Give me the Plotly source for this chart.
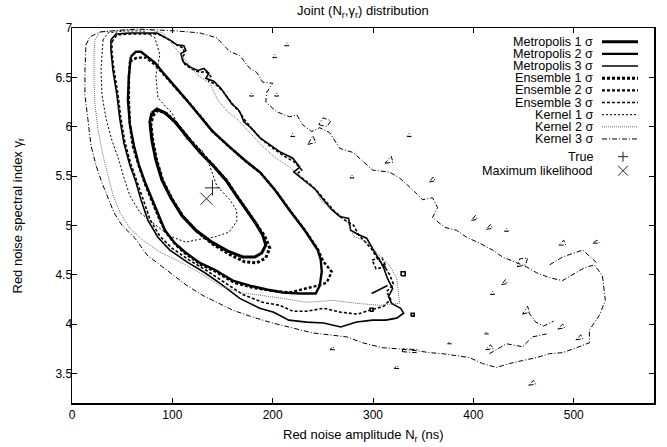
import plotly.graph_objects as go

# ---------------- data (N_r in ns, gamma_r) ----------------
title_text = "Joint (N<sub>r</sub>,γ<sub>r</sub>) distribution"
x_label = "Red noise amplitude N<sub>r</sub> (ns)"
y_label = "Red noise spectral index γ<sub>r</sub>"
x_ticks = [0, 100, 200, 300, 400, 500]
y_ticks = [3.5, 4, 4.5, 5, 5.5, 6, 6.5, 7]
y_ticktext = ["3.5", "4", "4.5", "5", "5.5", "6", "6.5", "7"]

true_point = (140.0, 5.38)
ml_point = (134.0, 5.27)

met1 = [(79.6,6.14),(84.6,6.18),(92.6,6.14),(102.5,6.05),(114.5,5.90),(127.4,5.74),(141.3,5.60),
        (153.3,5.46),(163.2,5.31),(173.2,5.16),(183.2,5.02),(190.1,4.90),(193.1,4.80),(189.1,4.72),
        (182.2,4.68),(170.2,4.68),(155.3,4.74),(139.4,4.83),(123.4,4.95),(109.5,5.10),(98.5,5.28),
        (89.6,5.46),(83.6,5.66),(79.6,5.86),(77.6,6.05),(79.6,6.14)]

met2 = [(58.7,6.71),(63.7,6.76),(68.7,6.76),(74.7,6.71),(82.6,6.65),(90.6,6.55),(99.5,6.45),(107.5,6.35),
        (117.5,6.23),(127.4,6.11),(139.4,5.96),(155.3,5.81),(172.2,5.66),(187.1,5.54),(202.1,5.36),
        (217.0,5.15),(231.9,4.95),(244.9,4.75),(247.9,4.65),(248.9,4.53),(246.9,4.39),(242.9,4.31),
        (227.0,4.31),(210.0,4.32),(194.1,4.35),(177.2,4.39),(160.3,4.44),(142.3,4.55),(127.4,4.62),
        (112.5,4.73),(102.5,4.82),(92.6,4.95),(87.6,5.07),(79.6,5.26),(72.7,5.44),(66.7,5.61),
        (61.7,5.81),(57.7,6.02),(55.7,6.27),(56.7,6.52),(58.7,6.71)]

met3 = [(38.8,6.88),(43.8,6.94),(57.7,6.95),(84.6,6.95),(97.5,6.88),(104.5,6.83),(111.5,6.82),(113.5,6.77),
        (108.5,6.74),(110.5,6.66),(118.5,6.60),(125.4,6.57),(131.4,6.59),(136.4,6.54),(133.4,6.49),
        (141.3,6.46),(148.3,6.39),(155.3,6.29),(159.3,6.23),(165.2,6.18),(168.2,6.13),(171.2,6.05),
        (178.2,5.99),(187.1,5.89),(197.1,5.82),(208.0,5.74),(220.0,5.68),(227.0,5.59),(221.0,5.54),
        (233.9,5.44),(241.9,5.37),(248.9,5.28),(257.8,5.17),(266.8,5.09),(275.7,5.07),(277.7,4.95),
        (284.7,4.91),(293.6,4.87),(298.6,4.79),(301.6,4.73),(307.6,4.63),(310.6,4.57),(314.5,4.46),
        (319.5,4.36),(315.5,4.28),(318.5,4.21),(327.5,4.16),(330.5,4.11),(323.5,4.06),(312.6,4.04),
        (299.6,4.04),(283.7,4.02),(267.8,3.97),(250.8,4.01),(233.9,4.02),(216.0,4.04),(201.1,4.12),
        (187.1,4.16),(167.2,4.26),(149.3,4.40),(132.4,4.52),(114.5,4.63),(97.5,4.75),(85.6,4.88),
        (75.7,5.05),(68.7,5.26),(63.7,5.44),(57.7,5.61),(51.8,5.83),(47.8,6.07),(44.8,6.32),
        (40.8,6.57),(38.8,6.78),(38.8,6.88)]
met3_extra = [
    [(298.6,4.31),(314.5,4.39)],
    [(328,4.49),(332,4.49),(332,4.53),(328,4.53),(328,4.49)],
    [(338,4.08),(341,4.08),(341,4.11),(338,4.11),(338,4.08)],
    [(297,4.13),(300,4.13),(300,4.16),(297,4.16),(297,4.13)],
]

ens1 = [(80.6,6.11),(85.6,6.17),(94.6,6.13),(104.5,6.03),(116.5,5.88),(129.4,5.73),(142.3,5.59),
        (154.3,5.45),(164.2,5.30),(174.2,5.15),(184.1,5.01),(192.1,4.89),(197.1,4.77),(193.1,4.67),
        (184.1,4.62),(172.2,4.63),(156.3,4.71),(140.3,4.81),(124.4,4.94),(110.5,5.09),(99.5,5.27),
        (90.6,5.45),(84.6,5.65),(80.6,5.85),(78.6,6.02),(80.6,6.11)]

ens2 = [(57.7,6.66),(64.7,6.70),(73.7,6.70),(82.6,6.63),(90.6,6.54),(99.5,6.44),(108.5,6.34),(118.5,6.22),
        (128.4,6.10),(140.3,5.95),(156.3,5.80),(173.2,5.65),(188.1,5.53),(203.1,5.35),(218.0,5.14),
        (232.9,4.94),(244.9,4.76),(250.8,4.63),(258.8,4.53),(253.8,4.42),(244.9,4.39),(231.9,4.36),
        (217.0,4.32),(197.1,4.34),(179.2,4.37),(161.3,4.42),(143.3,4.53),(128.4,4.60),(113.5,4.71),
        (103.5,4.80),(93.6,4.93),(87.6,5.05),(79.6,5.24),(72.7,5.42),(66.7,5.60),(60.7,5.80),
        (57.7,6.02),(56.7,6.27),(56.7,6.49),(57.7,6.66)]

ens3 = [(39.8,6.86),(44.8,6.93),(58.7,6.94),(85.6,6.94),(98.5,6.87),(105.5,6.82),(110.5,6.80),(112.5,6.74),
        (109.5,6.70),(112.5,6.63),(120.4,6.58),(127.4,6.55),(133.4,6.56),(138.3,6.51),(136.3,6.46),
        (143.3,6.43),(150.3,6.36),(157.3,6.26),(162.2,6.20),(167.2,6.15),(171.2,6.08),(179.2,5.98),
        (189.1,5.87),(199.1,5.79),(210.0,5.71),(222.0,5.64),(229.0,5.56),(224.0,5.52),(236.9,5.42),
        (244.9,5.34),(251.8,5.26),(260.8,5.15),(270.7,5.06),(280.7,5.00),(285.7,4.90),(291.7,4.84),
        (298.6,4.76),(304.6,4.66),(310.6,4.60),(316.5,4.50),(320.5,4.40),(313.5,4.33),(317.5,4.25),
        (310.6,4.18),(296.7,4.14),(284.7,4.10),(267.8,4.12),(250.8,4.16),(233.9,4.13),(220.0,4.13),
        (207.1,4.19),(190.1,4.22),(170.2,4.30),(152.3,4.42),(134.4,4.54),(116.5,4.65),(99.5,4.77),
        (87.6,4.89),(77.7,5.06),(70.7,5.27),(64.7,5.45),(58.7,5.62),(52.8,5.84),(48.8,6.08),
        (45.8,6.33),(41.8,6.58),(39.8,6.76),(39.8,6.86)]
ens3_extra = [
    [(299,4.65),(309,4.67),(313,4.58),(303,4.56),(299,4.65)],
]

ker1 = [(30.9,6.88),(35.8,6.95),(52.8,6.97),(70.7,6.97),(82.6,6.90),(87.6,6.73),(83.6,6.52),(85.6,6.29),
        (99.5,6.14),(113.5,5.88),(129.4,5.76),(137.4,5.60),(144.3,5.40),(157.3,5.26),(164.2,5.15),
        (164.2,5.04),(156.3,4.93),(141.3,4.88),(127.4,4.86),(113.5,4.83),(97.5,4.89),(82.6,5.01),
        (67.7,5.13),(57.7,5.30),(51.8,5.48),(46.8,5.66),(39.8,5.86),(33.8,6.09),(29.9,6.32),
        (28.9,6.57),(29.9,6.78),(30.9,6.88)]

ker2 = [(22.9,6.88),(27.9,6.96),(47.8,6.98),(77.6,6.98),(90.6,6.95),(99.5,6.84),(107.5,6.74),(115.5,6.65),
        (125.4,6.52),(137.4,6.44),(145.3,6.27),(155.3,6.15),(165.2,6.07),(177.2,5.94),(189.1,5.81),
        (202.1,5.69),(217.0,5.59),(229.9,5.48),(243.9,5.34),(248.9,5.24),(261.8,5.15),(273.7,5.05),
        (280.7,4.89),(293.6,4.83),(306.6,4.69),(316.5,4.59),(323.5,4.47),(326.5,4.21),(306.6,4.19),
        (283.7,4.21),(259.8,4.24),(233.9,4.22),(210.0,4.26),(187.1,4.29),(167.2,4.32),(147.3,4.39),
        (127.4,4.52),(107.5,4.63),(87.6,4.73),(70.7,4.85),(57.7,4.97),(47.8,5.13),(40.8,5.31),
        (35.8,5.51),(30.9,5.71),(25.9,5.97),(22.9,6.22),(21.9,6.47),(21.9,6.73),(22.9,6.88)]

ker3 = [(13.9,6.83),(17.9,6.91),(27.9,6.96),(64.7,6.99),(104.5,6.97),(127.4,6.95),(144.3,6.90),(151.3,6.83),
        (157.3,6.76),(167.2,6.72),(177.2,6.59),(184.1,6.55),(190.1,6.45),(200.1,6.44),(194.1,6.35),
        (193.1,6.25),(204.1,6.15),(217.0,6.10),(224.0,6.12),(229.9,6.02),(238.9,5.95),(246.9,5.99),
        (256.8,5.94),(266.8,5.78),(279.7,5.74),(288.7,5.66),(299.6,5.56),(316.5,5.54),(326.5,5.48),
        (336.4,5.39),(349.4,5.26),(359.3,5.28),(364.3,5.18),(359.3,5.08),(371.3,4.98),(383.2,4.95),
        (393.2,4.88),(406.1,4.82),(419.1,4.75),(429.0,4.68),(442.9,4.62),(452.9,4.58),(462.9,4.52),
        (475.8,4.47),(488.7,4.44),(500.7,4.51),(510.6,4.57),(520.6,4.60),(528.6,4.49),(531.5,4.24),
        (525.6,4.09),(515.6,3.94),(515.6,3.81),(502.7,3.76),(488.7,3.71),(475.8,3.70),(462.9,3.66),
        (448.9,3.63),(436.0,3.60),(423.0,3.56),(409.1,3.60),(396.2,3.66),(383.2,3.68),(369.3,3.70),
        (356.4,3.71),(343.4,3.73),(323.5,3.75),(309.6,3.76),(289.7,3.81),(273.7,3.87),(256.8,3.89),
        (239.9,3.91),(220.0,3.96),(200.1,4.01),(180.2,4.07),(160.3,4.14),(144.3,4.22),(130.4,4.29),
        (114.5,4.39),(99.5,4.51),(87.6,4.60),(74.7,4.70),(62.7,4.87),(49.8,5.00),(41.8,5.13),
        (35.8,5.28),(29.9,5.43),(23.9,5.61),(18.9,5.81),(15.9,6.07),(12.9,6.32),(12.9,6.57),(13.9,6.83)]
ker3_islands = [
    [(212,6.82),(216,6.82),(214,6.85),(212,6.82)],
    [(200,6.70),(204,6.70),(202,6.73),(200,6.70)],
    [(177,6.31),(181,6.31),(179,6.34),(177,6.31)],
    [(202,6.31),(206,6.31),(204,6.34),(202,6.31)],
    [(218,5.90),(222,5.90),(220,5.93),(218,5.90)],
    [(235,5.82),(243,5.84),(240,5.91),(235,5.82)],
    [(246,6.02),(254,6.00),(258,6.06),(250,6.09),(246,6.02)],
    [(334,5.90),(338,5.90),(336,5.93),(334,5.90)],
    [(277,5.48),(281,5.48),(279,5.51),(277,5.48)],
    [(312,5.63),(320,5.64),(318,5.70),(312,5.63)],
    [(356,5.44),(362,5.45),(360,5.49),(356,5.44)],
    [(398,5.05),(404,5.06),(402,5.10),(398,5.05)],
    [(413,4.96),(419,4.97),(417,5.01),(413,4.96)],
    [(431,4.94),(435,4.94),(433,4.97),(431,4.94)],
    [(444,4.58),(452,4.60),(454,4.67),(446,4.66),(444,4.58)],
    [(428,4.40),(434,4.41),(432,4.45),(428,4.40)],
    [(417,4.30),(421,4.30),(419,4.33),(417,4.30)],
    [(449,4.10),(456,4.12),(454,4.18),(449,4.10)],
    [(411,3.90),(415,3.90),(413,3.92),(411,3.90)],
    [(374,3.80),(378,3.80),(376,3.82),(374,3.80)],
    [(329,3.72),(343,3.71),(344,3.74),(330,3.75),(329,3.72)],
    [(412,3.74),(420,3.75),(417,3.79),(412,3.74)],
    [(485,4.80),(492,4.80),(490,4.85),(485,4.80)],
    [(519,4.82),(526,4.82),(523,4.85),(519,4.82)],
    [(484,3.95),(491,3.96),(489,4.00),(484,3.95)],
    [(502,3.84),(509,3.85),(507,3.89),(502,3.84)],
    [(321,3.55),(326,3.55),(324,3.58),(321,3.55)],
    [(455,3.38),(462,3.39),(460,3.43),(455,3.38)],
    [(257,3.74),(262,3.74),(260,3.77),(257,3.74)],
    [(416,3.70),(433,3.80),(449,3.77),(459,3.87),(473,3.90)],
    [(476,4.60),(489,4.68),(509,4.75),(523,4.62)],
    [(455,4.12),(462,4.02),(470,3.98),(480,4.03)],
]

# ---------------- figure ----------------
FONT = "Liberation Sans, Arial, Helvetica, sans-serif"
W, H = 667, 447
L, T, R, B = 72, 28, 13, 44
PW, PH = W - L - R, H - T - B


def px2x(px):
    return (px - L) / PW


def py2y(py):
    return (H - B - py) / PH


def to_xy(paths):
    xs, ys = [], []
    for k, pts in enumerate(paths):
        if k:
            xs.append(None)
            ys.append(None)
        for n, g in pts:
            xs.append(n)
            ys.append(g)
    return xs, ys


series = [
    ("Metropolis 1 σ", [met1], dict(color="black", width=3.0, dash="solid")),
    ("Metropolis 2 σ", [met2], dict(color="black", width=2.4, dash="solid")),
    ("Metropolis 3 σ", [met3] + met3_extra, dict(color="black", width=1.6, dash="solid")),
    ("Ensemble 1 σ", [ens1], dict(color="black", width=3.0, dash="3px,2px")),
    ("Ensemble 2 σ", [ens2], dict(color="black", width=2.4, dash="3px,2px")),
    ("Ensemble 3 σ", [ens3] + ens3_extra, dict(color="black", width=1.6, dash="3px,2px")),
    ("Kernel 1 σ", [ker1], dict(color="black", width=1.0, dash="2px,2px")),
    ("Kernel 2 σ", [ker2], dict(color="#6e6e6e", width=1.0, dash="1px,1px")),
    ("Kernel 3 σ", [ker3] + ker3_islands, dict(color="black", width=1.0, dash="5px,2px,1px,2px")),
]

fig = go.Figure()
for name, paths, style in series:
    xs, ys = to_xy(paths)
    fig.add_trace(go.Scatter(x=xs, y=ys, mode="lines", name=name, line=style,
                             connectgaps=False, hoverinfo="skip"))

fig.add_trace(go.Scatter(x=[true_point[0]], y=[true_point[1]], mode="markers", name="True",
                         hoverinfo="skip",
                         marker=dict(symbol="cross-thin", size=11, line=dict(color="#222", width=1))))
fig.add_trace(go.Scatter(x=[ml_point[0]], y=[ml_point[1]], mode="markers", name="Maximum likelihood",
                         hoverinfo="skip",
                         marker=dict(symbol="x-thin", size=12, line=dict(color="#222", width=1))))

TXT = dict(family=FONT, size=12.6, color="black")
annotations = []
shapes = []
text_right = 594
s0, s1 = 602, 638
row0, step = 41.7, 12.16
for i, (name, paths, style) in enumerate(series):
    yy = py2y(row0 + step * i)
    annotations.append(dict(x=px2x(text_right), y=yy, xref="paper", yref="paper", text=name,
                            showarrow=False, xanchor="right", yanchor="middle", height=12,
                            borderpad=0, font=TXT))
    shapes.append(dict(type="line", xref="paper", yref="paper", x0=px2x(s0), x1=px2x(s1),
                       y0=yy, y1=yy, line=style))

for label, rowpy in (("True", 156.7), ("Maximum likelihood", 170.7)):
    annotations.append(dict(x=px2x(text_right), y=py2y(rowpy), xref="paper", yref="paper",
                            text=label, showarrow=False, xanchor="right", yanchor="middle",
                            height=12, borderpad=0, font=TXT))
cx = 623
mk = dict(color="#222", width=1)
shapes += [
    dict(type="line", xref="paper", yref="paper", x0=px2x(cx - 5), x1=px2x(cx + 5),
         y0=py2y(156.7), y1=py2y(156.7), line=mk),
    dict(type="line", xref="paper", yref="paper", x0=px2x(cx), x1=px2x(cx),
         y0=py2y(151.7), y1=py2y(161.7), line=mk),
    dict(type="line", xref="paper", yref="paper", x0=px2x(cx - 5), x1=px2x(cx + 5),
         y0=py2y(165.7), y1=py2y(175.7), line=mk),
    dict(type="line", xref="paper", yref="paper", x0=px2x(cx - 5), x1=px2x(cx + 5),
         y0=py2y(175.7), y1=py2y(165.7), line=mk),
]

annotations.append(dict(x=0.5, y=py2y(435), xref="paper", yref="paper", text=x_label,
                        showarrow=False, xanchor="center", yanchor="middle",
                        font=dict(family=FONT, size=13, color="black")))
annotations.append(dict(x=px2x(18), y=0.5, xref="paper", yref="paper", text=y_label,
                        showarrow=False, xanchor="center", yanchor="middle", textangle=-90,
                        font=dict(family=FONT, size=13, color="black")))
annotations.append(dict(x=0.5, y=py2y(11), xref="paper", yref="paper", text=title_text,
                        showarrow=False, xanchor="center", yanchor="middle",
                        font=dict(family=FONT, size=13, color="black")))

axis_common = dict(showgrid=False, zeroline=False, showline=True, linecolor="black", linewidth=1.5,
                   mirror="ticks", ticks="inside", ticklen=5, tickwidth=1, tickcolor="black",
                   tickfont=dict(family=FONT, size=12, color="black"))

fig.update_layout(
    width=W, height=H,
    margin=dict(l=L, r=R, t=T, b=B, pad=0),
    paper_bgcolor="white", plot_bgcolor="white",
    showlegend=False,
    hovermode=False,
    annotations=annotations,
    shapes=shapes,
    xaxis=dict(range=[0, 580], tickvals=x_ticks, **axis_common),
    yaxis=dict(range=[3.2, 7], tickvals=y_ticks, ticktext=y_ticktext, ticklabelstandoff=-4,
               **axis_common),
)

# remove the browser's default 8px page margin so the figure sits at the window's corner
fig.write_html("out.html", config={"displayModeBar": False, "staticPlot": True},
               post_script="document.body.style.margin='0px';")
